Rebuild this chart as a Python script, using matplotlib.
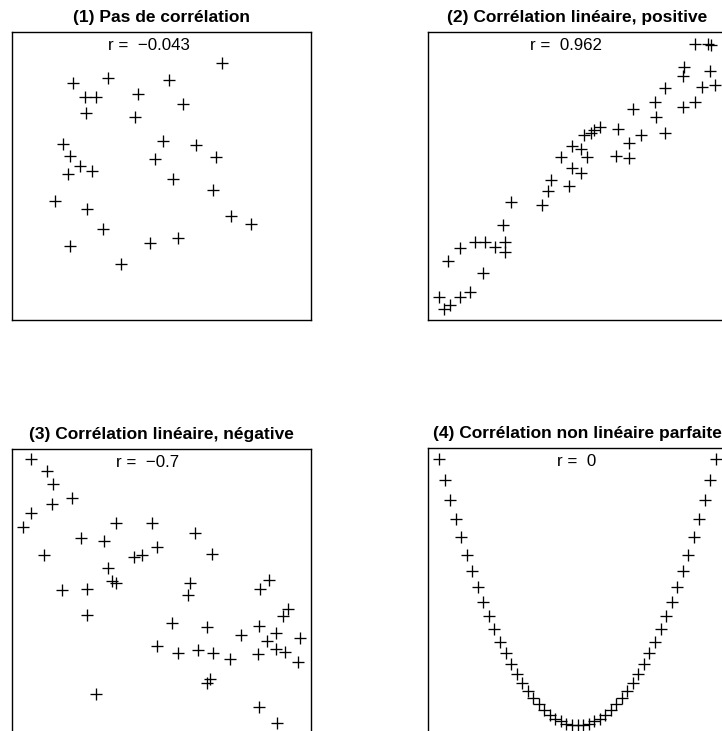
import matplotlib
matplotlib.use("Agg")
import matplotlib.pyplot as plt

plt.rcParams['font.family'] = ['Liberation Sans', 'DejaVu Sans']

titles = ["(1) Pas de corrélation",
          "(2) Corrélation linéaire, positive",
          "(3) Corrélation linéaire, négative",
          "(4) Corrélation non linéaire parfaite"]
r_labels = ["r =  −0.043", "r =  0.962", "r =  −0.7", "r =  0"]

# Panel 1 : pas de corrélation
x1 = [70.4, 32.1, 20.4, 52.4, 24.3, 28.2, 42.1, 57.1, 24.7, 41.3,
      17.1, 50.4, 61.6, 19.3, 47.9, 68.2, 22.7, 26.6, 18.6, 54.0,
      67.1, 14.3, 25.1, 73.2, 80.1, 30.4, 19.3, 46.2, 55.4, 36.6]
y1 = [89.2, 84.0, 82.3, 83.4, 77.3, 77.3, 78.4, 75.1, 71.8, 70.5,
      61.1, 62.0, 60.6, 57.0, 55.9, 56.5, 53.3, 51.6, 50.8, 49.0,
      45.0, 41.4, 38.6, 36.2, 33.3, 31.6, 25.8, 26.7, 28.4, 19.5]

# Panel 2 : corrélation linéaire positive
x2 = [89.2, 93.6, 94.5, 85.6, 85.3, 94.2, 91.6, 95.9, 79.2, 76.0,
      68.6, 76.4, 85.3, 89.2, 57.4, 55.5, 54.5, 52.2, 63.5, 71.3,
      79.4, 67.1, 48.2, 51.3, 44.4, 53.3, 63.0, 67.1, 48.2, 51.1,
      41.2, 40.1, 47.1, 27.9, 38.1, 25.1, 10.8, 15.6, 19.2, 22.5,
      25.9, 25.9, 6.7, 18.4, 3.6, 5.4, 7.3, 10.6, 13.9]
y2 = [95.8, 95.8, 95.5, 88.0, 84.7, 86.6, 80.8, 81.6, 80.5, 75.8,
      73.2, 70.4, 74.1, 75.8, 66.9, 66.0, 65.0, 64.2, 66.2, 64.2,
      65.0, 61.6, 60.4, 59.3, 56.7, 56.7, 56.9, 56.1, 52.8, 51.1,
      48.6, 44.9, 46.5, 41.1, 39.9, 33.0, 24.9, 27.2, 27.2, 25.5,
      27.2, 23.7, 20.6, 16.2, 8.1, 3.7, 5.2, 8.1, 9.8]

# Panel 3 : corrélation linéaire négative
x3 = [6.3, 11.6, 13.6, 20.0, 13.3, 6.3, 3.6, 34.8, 46.7, 23.0,
      30.8, 61.2, 48.4, 40.8, 43.4, 10.8, 66.8, 32.0, 33.3, 34.8,
      59.5, 86.1, 16.6, 25.2, 59.0, 82.9, 25.0, 92.4, 90.5, 53.4,
      65.3, 82.7, 88.3, 76.5, 96.3, 85.2, 48.4, 88.2, 91.3, 55.6,
      62.1, 67.3, 82.4, 72.9, 95.8, 66.2, 65.3, 28.1, 82.7, 88.5]
y3 = [96.3, 92.2, 87.6, 82.9, 80.6, 77.7, 72.8, 74.0, 74.2, 69.0,
      67.9, 70.6, 65.9, 62.4, 63.0, 62.9, 63.3, 58.6, 54.0, 53.4,
      53.2, 54.3, 50.9, 51.3, 49.0, 51.1, 42.1, 44.2, 41.8, 39.3,
      38.0, 38.4, 35.8, 35.1, 34.3, 33.2, 31.4, 30.3, 29.3, 28.9,
      29.9, 28.9, 28.8, 26.8, 25.9, 19.9, 18.5, 14.7, 10.3, 4.8]

# Panel 4 : corrélation non linéaire parfaite
x4 = [-1.00, -0.96, -0.92, -0.88, -0.84, -0.80, -0.76, -0.72, -0.68, -0.64,
      -0.60, -0.56, -0.52, -0.48, -0.44, -0.40, -0.36, -0.32, -0.28, -0.24,
      -0.20, -0.16, -0.12, -0.08, -0.04, 0.00, 0.04, 0.08, 0.12, 0.16,
      0.20, 0.24, 0.28, 0.32, 0.36, 0.40, 0.44, 0.48, 0.52, 0.56,
      0.60, 0.64, 0.68, 0.72, 0.76, 0.80, 0.84, 0.88, 0.92, 0.96, 1.00]
y4 = [1.0000, 0.9216, 0.8464, 0.7744, 0.7056, 0.6400, 0.5776, 0.5184, 0.4624, 0.4096,
      0.3600, 0.3136, 0.2704, 0.2304, 0.1936, 0.1600, 0.1296, 0.1024, 0.0784, 0.0576,
      0.0400, 0.0256, 0.0144, 0.0064, 0.0016, 0.0000, 0.0016, 0.0064, 0.0144, 0.0256,
      0.0400, 0.0576, 0.0784, 0.1024, 0.1296, 0.1600, 0.1936, 0.2304, 0.2704, 0.3136,
      0.3600, 0.4096, 0.4624, 0.5184, 0.5776, 0.6400, 0.7056, 0.7744, 0.8464, 0.9216, 1.0000]

W, H = 722, 731
fig = plt.figure(figsize=(W / 100, H / 100), dpi=100)

boxes = [(12, 32), (428, 32), (12, 448.5), (428, 448)]  # left, top in px
bw, bh = 299, 288
datasets = [(x1, y1), (x2, y2), (x3, y3), (x4, y4)]
limits = [((0, 100), (0, 100)), ((0, 100), (0, 100)), ((0, 100), (0, 100)),
          ((-1.08, 1.08), (-0.04, 1.04))]
rx = [0.4565, 0.46, 0.455, 0.4977]

for i in range(4):
    left, top = boxes[i]
    ax = fig.add_axes([left / W, (H - top - bh) / H, bw / W, bh / H])
    xs, ys = datasets[i]
    ax.plot(xs, ys, linestyle='none', marker='+', markersize=8.9,
            markeredgewidth=0.95, color='black')
    ax.set_xlim(*limits[i][0])
    ax.set_ylim(*limits[i][1])
    ax.set_xticks([])
    ax.set_yticks([])
    for s in ax.spines.values():
        s.set_linewidth(1.0)
        s.set_color('black')
    ax.set_title(titles[i], fontsize=12.5, fontweight='bold', pad=7.0)
    ax.text(rx[i], 1 - 18.5 / bh, r_labels[i], transform=ax.transAxes,
            ha='center', va='baseline', fontsize=12.2)

fig.savefig("out.png", dpi=100)
